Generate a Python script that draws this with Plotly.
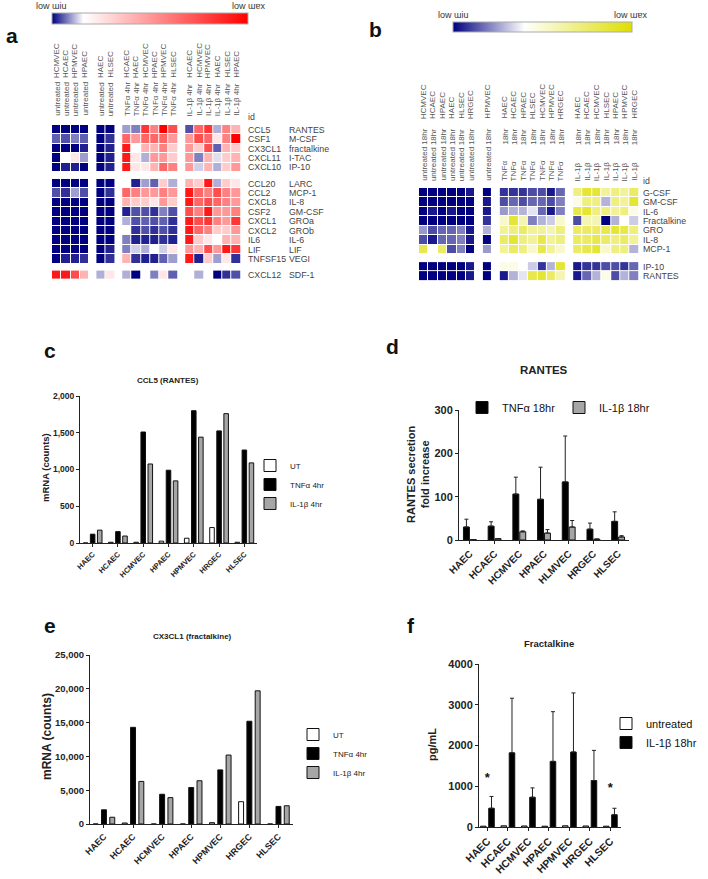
import plotly.graph_objects as go

W, H = 708, 879
FONT = "Arial, Liberation Sans, sans-serif"


def px(x):
    return x / W


def py(y):
    return 1 - y / H


# ---------------- Panel a : heatmap (row min -> row max) ----------------
a_conditions = ["untreated", "untreated", "TNFα 4hr", "IL-1β 4hr"]
a_cells = [
    ["HCMVEC", "HCAEC", "HPMVEC", "HPAEC"],
    ["HAEC", "HLSEC"],
    ["HCAEC", "HAEC", "HCMVEC", "HPAEC", "HPMVEC", "HLSEC"],
    ["HCAEC", "HCMVEC", "HPMVEC", "HAEC", "HLSEC", "HPAEC"],
]
a_row_sizes = [5, 9, 1]
a_genes = ["CCL5", "CSF1", "CX3CL1", "CXCL11", "CXCL10",
           "CCL20", "CCL2", "CXCL8", "CSF2", "CXCL1", "CXCL2", "IL6", "LIF", "TNFSF15",
           "CXCL12"]
a_proteins = ["RANTES", "M-CSF", "fractalkine", "I-TAC", "IP-10",
              "LARC", "MCP-1", "IL-8", "GM-CSF", "GROa", "GROb", "IL-6", "LIF", "VEGI",
              "SDF-1"]
a_values = [
    [0, 0, 0, 0, 0, 0, 0.10, 0.08, 0.83, 0.58, 1.00, 0.75, 0.05, 0.66, 0.83, 0.11, 0.58, 0.41],
    [0.06, 0.05, 0.08, 0.06, 0, 0.03, 0.66, 0.50, 0.66, 0.66, 0.66, 0.50, 0.50, 0.75, 0.66, 0.24, 0.58, 1.00],
    [0, 0, 0, 0.02, 0, 0.02, 0.92, 0.16, 0.41, 0.41, 0.58, 0.33, 0.50, 0.33, 0.75, 0.06, 0.41, 0.33],
    [0, 0.16, 0.24, 0.10, 0, 0.02, 0.92, 0.24, 0.11, 0.50, 0.50, 0.33, 0.50, 0.08, 0.41, 0.14, 0.33, 0.41],
    [0, 0.02, 0.02, 0, 0, 0.02, 0.92, 0.24, 0.24, 0.41, 0.66, 0.58, 0.50, 0.13, 0.41, 0.11, 0.33, 0.50],
    [0, 0, 0, 0, 0, 0, 0.16, 0.02, 0.10, 0.06, 0.33, 0.11, 0.41, 0.33, 0.92, 0.11, 0.33, 0.24],
    [0.05, 0.03, 0.10, 0.05, 0, 0.03, 0.66, 0.58, 0.50, 0.50, 0.58, 0.50, 0.92, 0.66, 0.58, 0.75, 0.58, 0.50],
    [0, 0, 0, 0, 0, 0, 0.41, 0.33, 0.33, 0.24, 0.50, 0.33, 0.92, 0.66, 0.75, 0.66, 0.58, 0.50],
    [0, 0, 0, 0, 0, 0, 0.02, 0.05, 0.05, 0.03, 0.08, 0.05, 0.75, 0.58, 0.92, 0.50, 0.50, 0.58],
    [0, 0, 0, 0, 0, 0, 0.11, 0.05, 0.06, 0.05, 0.06, 0.03, 0.92, 0.75, 0.83, 0.58, 0.50, 0.83],
    [0, 0, 0, 0, 0, 0, 0.16, 0.03, 0.05, 0.03, 0.05, 0.03, 0.92, 0.66, 0.58, 0.33, 0.33, 0.50],
    [0, 0, 0, 0, 0, 0, 0.08, 0.02, 0.02, 0.02, 0.03, 0.02, 0.92, 0.33, 0.24, 0.16, 0.41, 0.41],
    [0, 0, 0, 0, 0, 0.02, 0.08, 0.13, 0.11, 0.16, 0.13, 0.24, 0.50, 0.41, 0.75, 0.50, 0.92, 0.83],
    [0, 0.02, 0.02, 0.03, 0, 0.03, 0.41, 0.03, 0.02, 0.02, 0.06, 0.10, 0.92, 0.02, 0.33, 0.10, 0.24, 0.03],
    [0.92, 0.92, 0.75, 0.41, 0.11, 0.24, 0.11, 0.0, 0.16, 0.08, 0.24, 0.06, 0.16, 0.11, 0.16, 0.0, 0.03, 0.05],
]

# ---------------- Panel b : heatmap ----------------
b_conditions = ["untreated", "untreated", "TNFα", "IL-1β"]
b_time = "18hr"
b_cells = [
    ["HCMVEC", "HCAEC", "HPAEC", "HAEC", "HLSEC", "HRGEC"],
    ["HPMVEC"],
    ["HAEC", "HCAEC", "HPAEC", "HLSEC", "HCMVEC", "HPMVEC", "HRGEC"],
    ["HAEC", "HCAEC", "HCMVEC", "HLSEC", "HPAEC", "HPMVEC", "HRGEC"],
]
b_row_sizes = [7, 2]
b_proteins = ["G-CSF", "GM-CSF", "IL-6", "Fractalkine", "GRO", "IL-8", "MCP-1", "IP-10", "RANTES"]
b_values = [
    [0, 0, 0, 0, 0, 0.04, 0, 0.08, 0.08, 0.08, 0.12, 0.12, 0.04, 0.16, 0.70, 0.88, 0.88, 0.64, 0.70, 0.64, 0.76],
    [0, 0, 0, 0, 0, 0, 0.04, 0.12, 0.16, 0.12, 0.16, 0.16, 0.12, 0.20, 0.46, 0.70, 0.70, 0.28, 0.70, 0.64, 0.88],
    [0, 0.04, 0, 0.04, 0, 0, 0.04, 0.24, 0.28, 0.28, 0.36, 0.16, 0.04, 0.20, 0.82, 0.88, 0.70, 0.70, 0.64, 0.70, 0.46],
    [0, 0, 0, 0, 0, 0, 0.08, 0.52, 0.88, 0.58, 0.20, 0.28, 0.32, 0.52, 0.12, 0.58, 0.58, 0.0, 0.28, 0.40, 0.32],
    [0.24, 0.12, 0.16, 0.16, 0.20, 0.04, 0.28, 0.64, 0.70, 0.76, 0.64, 0.64, 0.58, 0.70, 0.76, 0.76, 0.76, 0.82, 0.88, 0.82, 0.70],
    [0.12, 0.04, 0.16, 0.16, 0.20, 0.04, 0, 0.76, 0.88, 0.70, 0.64, 0.82, 0.64, 0.70, 0.76, 0.76, 0.82, 0.76, 0.70, 0.76, 0.64],
    [0.82, 0.40, 0.76, 0.12, 0.20, 0, 0.24, 0.64, 0.76, 0.70, 0.52, 0.82, 0.64, 0.52, 0.76, 0.82, 0.88, 0.52, 0.70, 0.70, 0.28],
    [0, 0, 0, 0, 0, 0.04, 0, 0.46, 0.46, 0.40, 0.32, 0.08, 0.28, 0.88, 0.04, 0.08, 0.08, 0.12, 0.12, 0.08, 0.16],
    [0, 0, 0, 0, 0, 0.04, 0, 0.04, 0.28, 0.36, 0.82, 0.88, 0.76, 0.58, 0.04, 0.16, 0.28, 0.46, 0.12, 0.28, 0.20],
]

# ---------------- Panel c : CCL5 mRNA ----------------
c_cats = ["HAEC", "HCAEC", "HCMVEC", "HPAEC", "HPMVEC", "HRGEC", "HLSEC"]
c_ut = [0, 10, 10, 25, 65, 210, 10]
c_tnf = [120, 155, 1510, 990, 1800, 1525, 1265]
c_il1b = [175, 95, 1075, 845, 1440, 1760, 1090]

# ---------------- Panel d : RANTES secretion ----------------
d_cats = ["HAEC", "HCAEC", "HCMVEC", "HPAEC", "HLMVEC", "HRGEC", "HLSEC"]
d_tnf = [30, 32, 106, 94, 134, 25, 43]
d_tnf_err = [18, 10, 39, 74, 106, 14, 22]
d_il1b = [1, 3, 19, 16, 30, 2, 7]
d_il1b_err = [0, 0, 2, 8, 15, 0, 3]

# ---------------- Panel e : CX3CL1 mRNA ----------------
e_cats = ["HAEC", "HCAEC", "HCMVEC", "HPAEC", "HPMVEC", "HRGEC", "HLSEC"]
e_ut = [0, 150, 0, 0, 200, 3300, 0]
e_tnf = [2100, 14300, 4400, 5400, 8000, 15200, 2600]
e_il1b = [1000, 6300, 3900, 6400, 10200, 19700, 2700]

# ---------------- Panel f : Fractalkine secretion ----------------
f_cats = ["HAEC", "HCAEC", "HCMVEC", "HPAEC", "HPMVEC", "HRGEC", "HLSEC"]
f_untreated = [20, 30, 25, 20, 30, 25, 20]
f_il1b = [460, 1820, 730, 1610, 1840, 1140, 300]
f_il1b_err = [290, 1340, 230, 1220, 1450, 740, 160]
f_sig_cats = ["HAEC", "HLSEC"]
f_sig_y = [1180, 930]

fig = go.Figure()


def block_positions(sizes, gap):
    out, pos = [], 0.0
    for n in sizes:
        out.append([pos + i for i in range(n)])
        pos += n + gap
    return out


def add_heat(values, col_sizes, row_sizes, col_gap, row_gap, xa, ya, cax):
    xs = block_positions(col_sizes, col_gap)
    ys = block_positions(row_sizes, row_gap)
    c0 = 0
    for xc in xs:
        r0 = 0
        for yc in ys:
            z = [row[c0:c0 + len(xc)] for row in values[r0:r0 + len(yc)]]
            fig.add_trace(go.Heatmap(z=z, x=xc, y=yc, coloraxis=cax, xaxis=xa, yaxis=ya,
                                     xgap=1, ygap=1, hoverinfo="skip"))
            r0 += len(yc)
        c0 += len(xc)
    return xs, ys


xs_a, ys_a = add_heat(a_values, [len(c) for c in a_cells], a_row_sizes, 0.78, 0.74, "x", "y", "coloraxis")
xs_b, ys_b = add_heat(b_values, [len(c) for c in b_cells], b_row_sizes, 0.8, 0.85, "x2", "y2", "coloraxis2")

ann = []
hdr = dict(size=8, color="#555", family=FONT)
lab = dict(size=8.8, color="#444", family=FONT)

# panel a headers
for cond, cells, xc in zip(a_conditions, a_cells, xs_a):
    for cell, x in zip(cells, xc):
        ann.append(dict(x=x, xref="x", y=py(118), yref="paper", text=cond, textangle=-90,
                        xanchor="center", yanchor="bottom", showarrow=False, font=hdr))
        ann.append(dict(x=x, xref="x", y=py(80), yref="paper", text=cell, textangle=-90,
                        xanchor="center", yanchor="bottom", showarrow=False, font=hdr))
flat_ya = [y for g in ys_a for y in g]
for g, p, y in zip(a_genes, a_proteins, flat_ya):
    ann.append(dict(x=px(246), xref="paper", y=y, yref="y", text=g, xanchor="left",
                    yanchor="middle", showarrow=False, font=lab))
    ann.append(dict(x=px(287), xref="paper", y=y, yref="y", text=p, xanchor="left",
                    yanchor="middle", showarrow=False, font=lab))
ann.append(dict(x=px(246), xref="paper", y=py(117), yref="paper", text="id", xanchor="left",
                yanchor="middle", showarrow=False, font=lab))

# panel b headers
for cond, cells, xc in zip(b_conditions, b_cells, xs_b):
    for cell, x in zip(cells, xc):
        ann.append(dict(x=x, xref="x2", y=py(183), yref="paper", text=cond, textangle=-90,
                        xanchor="center", yanchor="bottom", showarrow=False, font=hdr))
        ann.append(dict(x=x, xref="x2", y=py(147), yref="paper", text=b_time, textangle=-90,
                        xanchor="center", yanchor="bottom", showarrow=False, font=hdr))
        ann.append(dict(x=x, xref="x2", y=py(121), yref="paper", text=cell, textangle=-90,
                        xanchor="center", yanchor="bottom", showarrow=False, font=hdr))
flat_yb = [y for g in ys_b for y in g]
for p, y in zip(b_proteins, flat_yb):
    ann.append(dict(x=px(641), xref="paper", y=y, yref="y2", text=p, xanchor="left",
                    yanchor="middle", showarrow=False, font=lab))
ann.append(dict(x=px(641), xref="paper", y=py(181), yref="paper", text="id", xanchor="left",
                yanchor="middle", showarrow=False, font=lab))

# colorbar labels (mirrored text as in the original)
cb_font = dict(size=9, color="#333", family=FONT)
for x, y, t in [(51, 6, "low ɯiu"), (249, 6, "low ɯɐx"), (453, 15, "low ɯiu"), (631, 15, "low ɯɐx")]:
    ann.append(dict(x=px(x), y=py(y), xref="paper", yref="paper", text=t, showarrow=False,
                    xanchor="center", yanchor="middle", font=cb_font))

# panel letters
for x, y, t in [(12, 35, "a"), (375, 30, "b"), (50, 351, "c"), (392, 347, "d"), (50, 625, "e"), (411, 625, "f")]:
    ann.append(dict(x=px(x), y=py(y), xref="paper", yref="paper", text=f"<b>{t}</b>", showarrow=False,
                    xanchor="center", yanchor="middle", font=dict(size=21, color="#111", family=FONT)))

# chart titles
for x, y, t, s in [(168, 380, "CCL5 (RANTES)", 8), (544, 370, "RANTES", 11.5),
                   (192, 636, "CX3CL1 (fractalkine)", 8), (549, 643, "Fractalkine", 9.5)]:
    ann.append(dict(x=px(x), y=py(y), xref="paper", yref="paper", text=f"<b>{t}</b>", showarrow=False,
                    xanchor="center", yanchor="middle", font=dict(size=s, color="#222", family=FONT)))

# y titles
for x, y, t, s in [(45, 468, "mRNA (counts)", 9.5), (418, 475, "RANTES secretion<br>fold increase", 11),
                   (47, 737, "mRNA (counts)", 12), (432, 745, "pg/mL", 11)]:
    ann.append(dict(x=px(x), y=py(y), xref="paper", yref="paper", text=f"<b>{t}</b>", showarrow=False,
                    textangle=-90, xanchor="center", yanchor="middle",
                    font=dict(size=s, color="#222", family=FONT)))


def bar(x, y, name, color, offset, width, xa, ya, legend, err=None, showlegend=True):
    kw = {}
    if err is not None:
        kw["error_y"] = dict(type="data", array=err, arrayminus=[0] * len(err), symmetric=False,
                             color="#222", thickness=1, width=2)
    fig.add_trace(go.Bar(x=x, y=y, name=name, offset=offset, width=width, xaxis=xa, yaxis=ya,
                         marker=dict(color=color, line=dict(color="#111", width=1)),
                         legend=legend, showlegend=showlegend, hoverinfo="skip", **kw))


GRAY = "#a6a6a6"
bar(c_cats, c_ut, "UT", "white", -0.37, 0.18, "x3", "y3", "legend")
bar(c_cats, c_tnf, "TNFα 4hr", "black", -0.09, 0.18, "x3", "y3", "legend")
bar(c_cats, c_il1b, "IL-1β 4hr", GRAY, 0.19, 0.18, "x3", "y3", "legend")

bar(d_cats, d_tnf, "TNFα 18hr", "black", -0.26, 0.24, "x4", "y4", "legend2", err=d_tnf_err)
bar(d_cats, d_il1b, "IL-1β 18hr", GRAY, 0.02, 0.24, "x4", "y4", "legend2", err=d_il1b_err)

bar(e_cats, e_ut, "UT", "white", -0.37, 0.17, "x5", "y5", "legend3")
bar(e_cats, e_tnf, "TNFα 4hr", "black", -0.085, 0.17, "x5", "y5", "legend3")
bar(e_cats, e_il1b, "IL-1β 4hr", GRAY, 0.2, 0.17, "x5", "y5", "legend3")

bar(f_cats, f_untreated, "untreated", "white", -0.335, 0.27, "x6", "y6", "legend4")
bar(f_cats, f_il1b, "IL-1β 18hr", "black", 0.065, 0.27, "x6", "y6", "legend4", err=f_il1b_err)
fig.add_trace(go.Scatter(x=f_sig_cats, y=f_sig_y, mode="text", text=["*"] * len(f_sig_cats),
                         textfont=dict(size=13, color="#111", family=FONT, weight="bold"),
                         xaxis="x6", yaxis="y6", showlegend=False, hoverinfo="skip"))

hide = dict(showgrid=False, zeroline=False, showticklabels=False, ticks="", showline=False)


def bar_y(dom, rng, dtick, fmt, fs):
    return dict(domain=[py(dom[1]), py(dom[0])], range=rng, dtick=dtick, tickformat=fmt,
                showline=True, linecolor="#222", linewidth=1, ticks="outside", ticklen=3,
                tickwidth=1, tickcolor="#222", showgrid=False, zeroline=False,
                tickfont=dict(size=fs, color="#222", family=FONT, weight="bold"))


def bar_x(dom, rng, fs, anchor):
    return dict(domain=[px(dom[0]), px(dom[1])], range=rng, type="category", anchor=anchor,
                showline=True, linecolor="#222", linewidth=1, ticks="outside", ticklen=3,
                tickwidth=1, tickcolor="#222", showgrid=False, zeroline=False, tickangle=-45,
                tickfont=dict(size=fs, color="#222", family=FONT, weight="bold"))


leg_common = dict(bgcolor="rgba(0,0,0,0)", borderwidth=0, xanchor="left", yanchor="top")

fig.update_layout(
    width=W, height=879, margin=dict(l=0, r=0, t=0, b=0, autoexpand=False),
    paper_bgcolor="white", plot_bgcolor="white",
    font=dict(family=FONT, color="#222"),
    barmode="overlay",
    xaxis=dict(domain=[px(52), px(241)], range=[-0.5, xs_a[-1][-1] + 0.5], anchor="y", **hide),
    yaxis=dict(domain=[py(280), py(125)], range=[ys_a[-1][-1] + 0.5, -0.5], anchor="x", **hide),
    xaxis2=dict(domain=[px(419), px(639)], range=[-0.5, xs_b[-1][-1] + 0.5], anchor="y2", **hide),
    yaxis2=dict(domain=[py(281), py(188)], range=[ys_b[-1][-1] + 0.5, -0.5], anchor="x2", **hide),
    xaxis3=bar_x((80, 257), [-0.5, 6.5], 7.5, "y3"),
    yaxis3=bar_y((396, 543), [0, 2000], 500, ",d", 8.5) | dict(anchor="x3"),
    xaxis4=bar_x((459, 629), [-0.44, 6.44], 10, "y4"),
    yaxis4=bar_y((410, 540), [0, 300], 100, "d", 11) | dict(anchor="x4"),
    xaxis5=bar_x((90, 293), [-0.48, 6.5], 9, "y5"),
    yaxis5=bar_y((655, 824), [0, 25000], 5000, ",d", 9.5) | dict(anchor="x5"),
    xaxis6=bar_x((479, 621), [-0.41, 6.52], 10.5, "y6"),
    yaxis6=bar_y((664, 827), [0, 4000], 1000, "d", 11) | dict(anchor="x6"),
    coloraxis=dict(cmin=0, cmax=1,
                   colorscale=[[0, "#000080"], [0.16, "#ffffff"], [1, "#ff0000"]],
                   colorbar=dict(orientation="h", x=px(150), xanchor="center", y=py(13), yanchor="top",
                                 len=196, lenmode="pixels", thickness=11, thicknessmode="pixels",
                                 outlinewidth=1, outlinecolor="#aaa", showticklabels=False, ticks="",
                                 xpad=0, ypad=0)),
    coloraxis2=dict(cmin=0, cmax=1,
                    colorscale=[[0, "#000080"], [0.4, "#ffffff"], [1, "#dede00"]],
                    colorbar=dict(orientation="h", x=px(542.5), xanchor="center", y=py(22), yanchor="top",
                                  len=179, lenmode="pixels", thickness=10, thicknessmode="pixels",
                                  outlinewidth=1, outlinecolor="#aaa", showticklabels=False, ticks="",
                                  xpad=0, ypad=0)),
    legend=dict(x=px(250), y=py(451), font=dict(size=8, color="#222", family=FONT), **leg_common),
    legend2=dict(x=px(462), y=py(393), orientation="h", entrywidth=52, entrywidthmode="pixels",
                 font=dict(size=11, color="#111", family=FONT), **leg_common),
    legend3=dict(x=px(293), y=py(720), font=dict(size=8, color="#222", family=FONT), **leg_common),
    legend4=dict(x=px(606), y=py(709), font=dict(size=11, color="#111", family=FONT), **leg_common),
    annotations=ann,
)

fig.write_html("out.html", config={"displayModeBar": False},
               post_script="document.body.style.margin='0';document.body.style.overflow='hidden';")
